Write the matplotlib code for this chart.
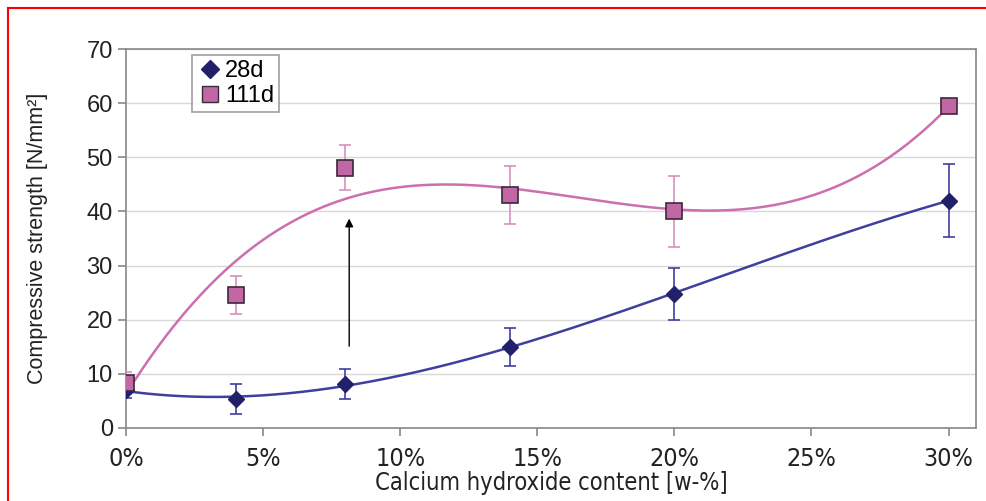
import numpy as np
import matplotlib
matplotlib.use('Agg')
import matplotlib.pyplot as plt
from matplotlib.lines import Line2D
from matplotlib.ticker import FuncFormatter

plt.rcParams['font.family'] = ['Liberation Sans', 'DejaVu Sans']

# data
content = [0.00, 0.04, 0.08, 0.14, 0.20, 0.30]
s28 = [7.0, 5.3, 8.1, 15.0, 24.8, 42.0]
e28 = [1.5, 2.8, 2.8, 3.5, 4.8, 6.7]
s111 = [8.3, 24.5, 48.1, 43.0, 40.0, 59.5]
e111 = [2.0, 3.5, 4.1, 5.4, 6.5, 0.0]

c28_mark = '#22206a'
c28_line = '#3f3f9e'
c111_mark = '#c266a6'
c111_line = '#cc6fae'
c111_err = '#d690bd'
narrow = dict(family=['Liberation Sans Narrow', 'DejaVu Sans'], stretch='condensed')

fig = plt.figure(figsize=(9.87, 5.01), dpi=100)
ax = fig.add_axes([126 / 987, 1 - 428 / 501, (976 - 126) / 987, (428 - 49) / 501])

# polynomial trend lines (order 3), like the spreadsheet trendlines
xs = np.linspace(0, 0.30, 300)
p28 = np.polyfit(content, s28, 3)
p111 = np.polyfit(content, s111, 3)
ax.plot(xs, np.polyval(p28, xs), color=c28_line, lw=1.8, zorder=3)
ax.plot(xs, np.polyval(p111, xs), color=c111_line, lw=1.8, zorder=3)

ax.errorbar(content, s28, yerr=e28, fmt='none', ecolor=c28_line, elinewidth=1.2,
            capsize=4, capthick=1.2, zorder=4)
ax.errorbar(content[:5], s111[:5], yerr=e111[:5], fmt='none', ecolor=c111_err,
            elinewidth=1.2, capsize=4, capthick=1.2, zorder=4)
ax.plot(content, s28, 'D', ms=8, color=c28_mark, mec=c28_mark, zorder=5)
ax.plot(content, s111, 's', ms=11, color=c111_mark, mec='#3a2a3a', mew=1.2, zorder=5)

ax.annotate('', xy=(0.0814, 39.2), xytext=(0.0814, 14.6),
            arrowprops=dict(arrowstyle='-|>', color='black', lw=1.0,
                            mutation_scale=12), zorder=6)

ax.set_xlim(0, 0.31)
ax.set_ylim(0, 70)
ax.set_xticks([0, 0.05, 0.10, 0.15, 0.20, 0.25, 0.30])
ax.xaxis.set_major_formatter(FuncFormatter(lambda v, _: f'{v * 100:.0f}%'))
ax.set_yticks(range(0, 71, 10))
ax.yaxis.grid(True, color='#d8d8d8', lw=1.0)
ax.set_axisbelow(True)
for sp in ax.spines.values():
    sp.set_color('#888888')
    sp.set_linewidth(1.2)
ax.tick_params(axis='both', colors='#888888', length=6, width=1.2,
               labelcolor='#222222', labelsize=17)
ax.tick_params(axis='x', pad=8, labelsize=18)
for lab in ax.get_xticklabels():
    lab.set_family(narrow['family'])
    lab.set_stretch('condensed')

ax.set_ylabel('Compressive strength [N/mm²]', fontsize=15.5, color='#222222', labelpad=28)
ax.set_xlabel('Calcium hydroxide content [w-%]', fontsize=17, color='#222222',
              labelpad=0, **narrow)

handles = [Line2D([], [], ls='none', marker='D', ms=9, color=c28_mark),
           Line2D([], [], ls='none', marker='s', ms=12, color=c111_mark, mec='#3a2a3a')]
leg = ax.legend(handles, ['28d', '111d'], loc='upper left', bbox_to_anchor=(0.075, 0.99),
                fontsize=17, frameon=True, fancybox=False, borderpad=0.2,
                handletextpad=0.1, labelspacing=0.15, handlelength=1.1,
                borderaxespad=0.1)
leg.get_frame().set_edgecolor('#888888')
leg.get_frame().set_linewidth(1.2)

# red frame at top and left of the figure
fig.add_artist(Line2D([8 / 987, 1], [1 - 8 / 501, 1 - 8 / 501], color='red', lw=1.5,
                      transform=fig.transFigure))
fig.add_artist(Line2D([8 / 987, 8 / 987], [0, 1 - 8 / 501], color='red', lw=1.5,
                      transform=fig.transFigure))

fig.savefig('out.png', dpi=100)
